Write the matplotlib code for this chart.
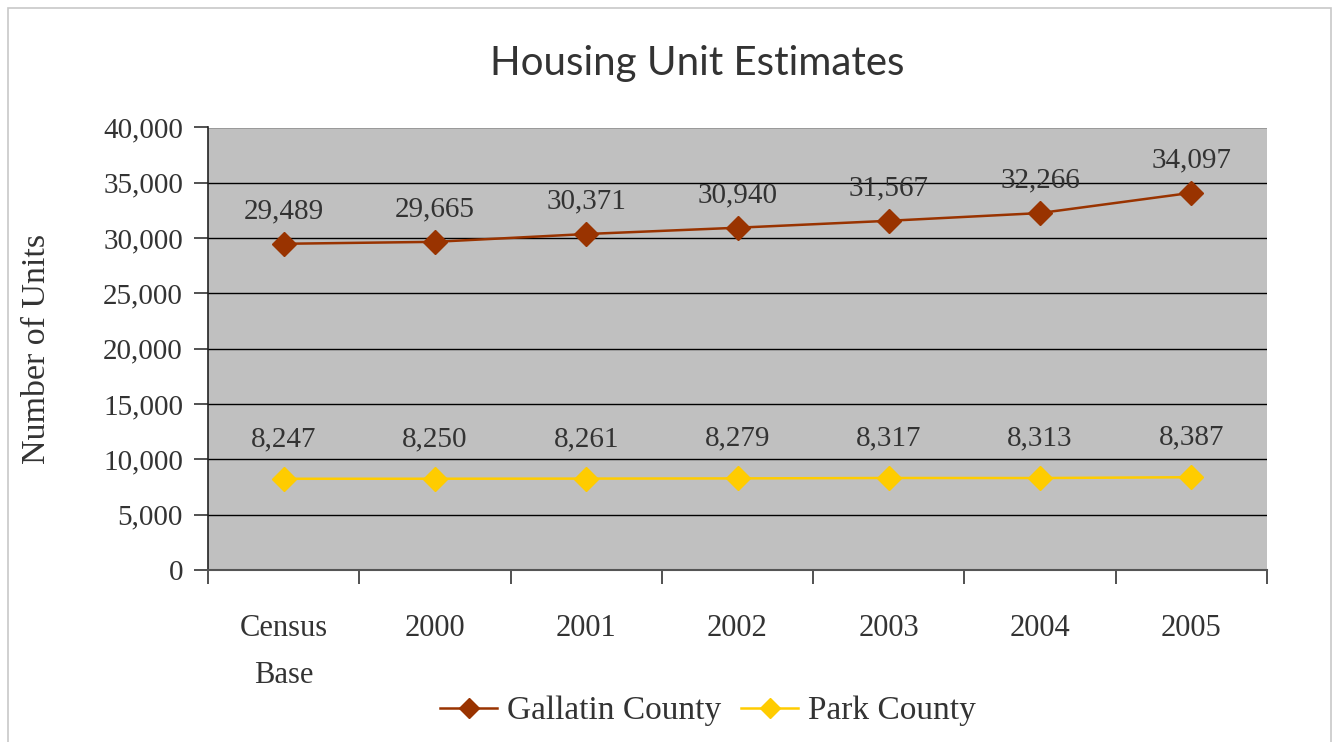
import matplotlib
matplotlib.use("Agg")
import matplotlib.pyplot as plt
from matplotlib.patches import Rectangle
from matplotlib.ticker import FuncFormatter, FixedLocator

categories = ["Census\nBase", "2000", "2001", "2002", "2003", "2004", "2005"]
gallatin = [29489, 29665, 30371, 30940, 31567, 32266, 34097]
park = [8247, 8250, 8261, 8279, 8317, 8313, 8387]
series_names = ["Gallatin County", "Park County"]
title = "Housing Unit Estimates"
ylabel = "Number of Units"

W, H = 1336, 742
fig = plt.figure(figsize=(W / 100, H / 100), dpi=100)
fig.patch.set_facecolor("white")

# figure border (bottom edge runs off the image)
fig.add_artist(Rectangle((8 / W, -0.05), (1331 - 8) / W, (H - 8) / H + 0.05,
                         transform=fig.transFigure, fill=False,
                         edgecolor="#c8c8c8", linewidth=1.2, clip_on=False))

left, right, top, bottom = 208, 1267, 127.5, 570
ax = fig.add_axes([left / W, 1 - bottom / H, (right - left) / W, (bottom - top) / H])
ax.set_facecolor("#c0c0c0")

serif = "Liberation Serif"
tcol = "#333333"

x = list(range(len(categories)))
ax.plot(x, gallatin, color="#993300", marker="D", markersize=12, linewidth=1.8,
        label=series_names[0], zorder=3)
ax.plot(x, park, color="#ffcc00", marker="D", markersize=12, linewidth=1.8,
        label=series_names[1], zorder=3)

for xi, v in zip(x, gallatin):
    ax.annotate(f"{v:,}", (xi, v), xytext=(0, 23.5), textcoords="offset points",
                ha="center", va="center", fontsize=21, family=serif, color=tcol)
for xi, v in zip(x, park):
    ax.annotate(f"{v:,}", (xi, v), xytext=(0, 28.5), textcoords="offset points",
                ha="center", va="center", fontsize=21, family=serif, color=tcol)

ax.set_xlim(-0.5, len(categories) - 0.5)
ax.set_ylim(0, 40000)
ax.yaxis.set_major_locator(FixedLocator(range(0, 40001, 5000)))
ax.yaxis.set_major_formatter(FuncFormatter(lambda v, p: f"{int(v):,}"))
ax.grid(axis="y", color="black", linewidth=1.0)
ax.set_axisbelow(True)

ax.set_xticks(x)
ax.set_xticklabels(categories, fontsize=22, family=serif, color=tcol, linespacing=1.8)
ax.set_xticks([i - 0.5 for i in range(len(categories) + 1)], minor=True)
ax.tick_params(axis="x", which="major", length=0, pad=32)
ax.tick_params(axis="x", which="minor", length=10, width=1.2, color="#333333", direction="out")
ax.tick_params(axis="y", length=10, width=1.2, color="#333333", direction="out", pad=8)
for lbl in ax.get_yticklabels():
    lbl.set_family(serif)
    lbl.set_fontsize(21)
    lbl.set_color(tcol)

for s in ["top", "right"]:
    ax.spines[s].set_visible(False)
ax.spines["left"].set_color("#222222")
ax.spines["left"].set_linewidth(1.2)
ax.spines["bottom"].set_color("#555555")
ax.spines["bottom"].set_linewidth(1.5)

ax.set_ylabel(ylabel, fontsize=24.5, family=serif, color=tcol)
ax.yaxis.set_label_coords(-(left - 52) / (right - left), 0.5)

fig.text(697 / W, 1 - 63 / H, title, ha="center", va="center", fontsize=29,
         family="Lato", color="#333333")

leg = fig.legend(loc="center", bbox_to_anchor=(0.53, 1 - 711 / H), ncol=2,
                 frameon=False, prop={"family": serif, "size": 24},
                 handlelength=1.7, columnspacing=0.6, handletextpad=0.3,
                 markerscale=0.85)
for t in leg.get_texts():
    t.set_color(tcol)

fig.savefig("out.png", dpi=100)
